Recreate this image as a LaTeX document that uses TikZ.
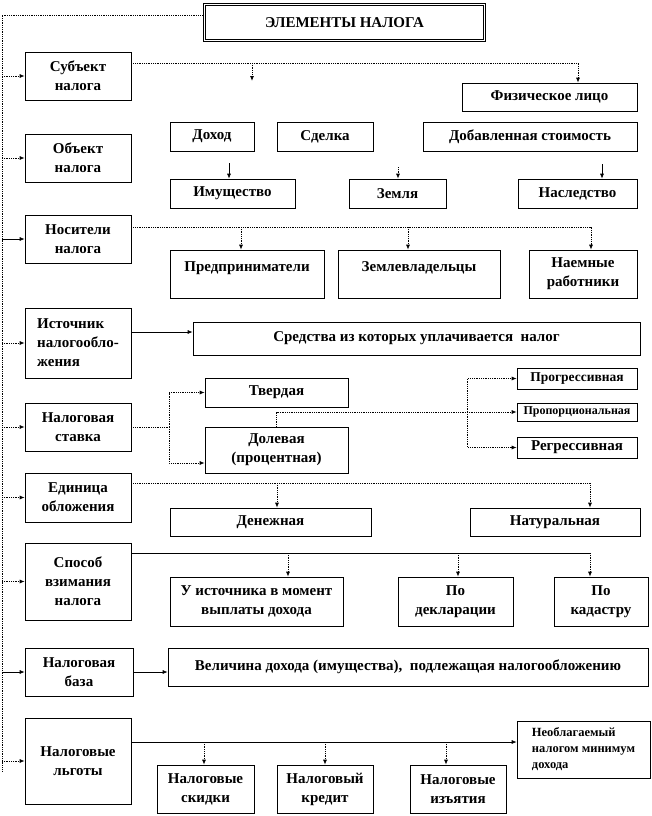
\documentclass[tikz,border=0pt]{standalone}
\usepackage{fontspec}
\setmainfont{Liberation Serif}
\usetikzlibrary{arrows.meta,positioning,shadows}

\begin{document}
\begin{tikzpicture}[x=1pt,y=-1pt,every node/.style={font=\bfseries\fontsize{15}{19}\selectfont,align=center,inner sep=1pt},box/.style={draw,fill=white,line width=0.6pt,drop shadow={shadow xshift=1.4pt,shadow yshift=-1.4pt,fill=black!60,opacity=1}},lbox/.style={box,minimum width=106pt},dl/.style={densely dotted,line width=0.8pt},sl/.style={line width=0.7pt},arr/.style={-{Latex[length=5pt,width=4pt]}}]
\useasboundingbox (0,0) rectangle (652,816);
\node[draw,line width=0.8pt,double,double distance=1.5pt,minimum width=280pt,minimum height=36pt] (title) at (344.5,22.5) {ЭЛЕМЕНТЫ НАЛОГА};
\node[lbox,minimum height=48pt] (subj) at (78,76) {Субъект\\налога};
\node[lbox,minimum height=48pt] (obj) at (78,158) {Объект\\налога};
\node[lbox,minimum height=48pt] (nos) at (78,239) {Носители\\налога};
\node[lbox,minimum height=70pt,align=left] (src) at (78,343) {Источник\\налогообло-\\жения};
\node[lbox,minimum height=48pt] (rate) at (78,427) {Налоговая\\ставка};
\node[lbox,minimum height=49pt] (unit) at (78,497.5) {Единица\\обложения};
\node[lbox,minimum height=77pt] (method) at (78,581.5) {Способ\\взимания\\налога};
\node[box,minimum width=108pt,minimum height=48pt] (base) at (79,672) {Налоговая\\база};
\node[lbox,minimum height=86pt] (relief) at (78,761) {Налоговые\\льготы};
\node[box,minimum width=175pt,minimum height=28pt] (fiz) at (549.5,97) {Физическое лицо};
\node[box,minimum width=84pt,minimum height=29pt] (dohod) at (212,136.5) {Доход};
\node[box,minimum width=96pt,minimum height=29pt] (sdelka) at (325,136.5) {Сделка};
\node[box,minimum width=214pt,minimum height=29pt] (dobst) at (530,136.5) {Добавленная стоимость};
\node[box,minimum width=125pt,minimum height=29pt] (imush) at (232.5,193.5) {Имущество};
\node[box,minimum width=97pt,minimum height=29pt] (zemlya) at (397.5,193.5) {Земля};
\node[box,minimum width=119pt,minimum height=29pt] (nasl) at (577.5,193.5) {Наследство};
\node[box,minimum width=154pt,minimum height=48pt,text depth=14pt] (pred) at (247,274) {Предприниматели};
\node[box,minimum width=162pt,minimum height=48pt,text depth=14pt] (zemvl) at (419,274) {Землевладельцы};
\node[box,minimum width=108pt,minimum height=48pt] (naem) at (583,274) {Наемные\\работники};
\node[box,minimum width=447pt,minimum height=33pt] (sredstva) at (416.5,338.5) {Средства из которых уплачивается\ \ налог};
\node[box,minimum width=143pt,minimum height=29pt] (tverd) at (276.5,392.5) {Твердая};
\node[box,minimum width=143pt,minimum height=46pt] (dolev) at (276.5,450) {Долевая\\(процентная)};
\node[box,minimum width=120pt,minimum height=21pt,font=\bfseries\fontsize{13.5}{15}\selectfont] (progr) at (577,378.5) {Прогрессивная};
\node[box,minimum width=120pt,minimum height=18pt,font=\bfseries\fontsize{12}{14}\selectfont] (prop) at (577,412) {Пропорциональная};
\node[box,minimum width=120pt,minimum height=21pt] (regr) at (577,447.5) {Регрессивная};
\node[box,minimum width=201pt,minimum height=28pt] (denezh) at (270.5,522) {Денежная};
\node[box,minimum width=170pt,minimum height=28pt] (natur) at (555,522) {Натуральная};
\node[box,minimum width=173pt,minimum height=49pt] (uist) at (256.5,601.5) {У источника в момент\\выплаты дохода};
\node[box,minimum width=115pt,minimum height=49pt] (dekl) at (455.5,601.5) {По\\декларации};
\node[box,minimum width=94pt,minimum height=49pt] (kadastr) at (601,601.5) {По\\кадастру};
\node[box,minimum width=480pt,minimum height=38pt] (velich) at (408,667) {Величина дохода (имущества),\ \ подлежащая налогообложению};
\node[box,minimum width=133pt,minimum height=57pt,align=left,font=\bfseries\fontsize{12.5}{16}\selectfont] (neobl) at (583.5,749.5) {Необлагаемый\\налогом минимум\\дохода};
\node[box,minimum width=97pt,minimum height=48pt] (skidki) at (205.5,789) {Налоговые\\скидки};
\node[box,minimum width=96pt,minimum height=48pt] (kredit) at (325,789) {Налоговый\\кредит};
\node[box,minimum width=96pt,minimum height=48pt] (izyat) at (458,789) {Налоговые\\изъятия};
\coordinate (ttop) at (2,15);
\coordinate (tbot) at (2,772);
\draw[dl] (title.west |- ttop) -- (ttop) -- (tbot);
\draw[dl,arr] (ttop |- subj.west) -- (subj.west);
\draw[dl,arr] (ttop |- obj.west) -- (obj.west);
\draw[sl,arr] (ttop |- nos.west) -- (nos.west);
\draw[dl,arr] (ttop |- src.west) -- (src.west);
\draw[dl,arr] (ttop |- rate.west) -- (rate.west);
\draw[dl,arr] (ttop |- unit.west) -- (unit.west);
\draw[dl,arr] (ttop |- method.west) -- (method.west);
\draw[sl,arr] (ttop |- base.west) -- (base.west);
\draw[dl,arr] (ttop |- relief.west) -- (relief.west);
\coordinate (sj) at ([yshift=13pt]subj.east);
\coordinate (sfree) at (252,81);
\draw[dl,arr] (sj) -| ([xshift=28.5pt]fiz.north);
\draw[dl,arr] (sj -| sfree) -- (sfree);
\coordinate (o1) at (229,163);
\coordinate (o2) at (398,167);
\coordinate (o3) at (602,164);
\draw[sl,arr] (o1) -- (o1 |- imush.north);
\draw[dl,arr] (o2) -- (o2 |- zemlya.north);
\draw[sl,arr] (o3) -- (o3 |- nasl.north);
\coordinate (nj) at ([yshift=12pt]nos.east);
\coordinate (p1) at ([xshift=-6pt]pred.north);
\coordinate (p2) at ([xshift=-11pt]zemvl.north);
\draw[dl,arr] (nj) -| ([xshift=8pt]naem.north);
\draw[dl,arr] (nj -| p1) -- (p1);
\draw[dl,arr] (nj -| p2) -- (p2);
\draw[sl,arr] ([yshift=11pt]src.east) -- ([yshift=11pt]src.east -| sredstva.west);
\draw[dl] (rate.east) -- ++(38,0) coordinate (rj);
\draw[dl,arr] (rj) |- (tverd.west);
\draw[dl,arr] (rj) |- ([yshift=-13pt]dolev.west);
\draw[dl,arr] (dolev.north) |- (prop.west);
\coordinate (pj) at ([xshift=-49pt]prop.west);
\draw[dl,arr] (pj) |- (progr.west);
\draw[dl,arr] (pj) |- (regr.west);
\coordinate (uj) at ([yshift=14.5pt]unit.east);
\coordinate (d1) at ([xshift=6.5pt]denezh.north);
\draw[dl,arr] (uj) -| ([xshift=35pt]natur.north);
\draw[dl,arr] (uj -| d1) -- (d1);
\coordinate (mj) at ([yshift=28.5pt]method.east);
\coordinate (m1) at ([xshift=31.5pt]uist.north);
\coordinate (m2) at ([xshift=2.5pt]dekl.north);
\coordinate (m3) at ([xshift=-11pt]kadastr.north);
\draw[sl] (mj) -- (mj -| m3);
\draw[dl,arr] (mj -| m1) -- (m1);
\draw[dl,arr] (mj -| m2) -- (m2);
\draw[dl,arr] (mj -| m3) -- (m3);
\draw[sl,arr] (base.east) -- (base.east -| velich.west);
\coordinate (lj) at ([yshift=19pt]relief.east);
\coordinate (l1) at ([xshift=-1.5pt]skidki.north);
\coordinate (l3) at ([xshift=-12pt]izyat.north);
\draw[sl,arr] (lj) -- (lj -| neobl.west);
\draw[dl,arr] (lj -| l1) -- (l1);
\draw[dl,arr] (lj -| kredit.north) -- (kredit.north);
\draw[dl,arr] (lj -| l3) -- (l3);
\end{tikzpicture}
\end{document}
